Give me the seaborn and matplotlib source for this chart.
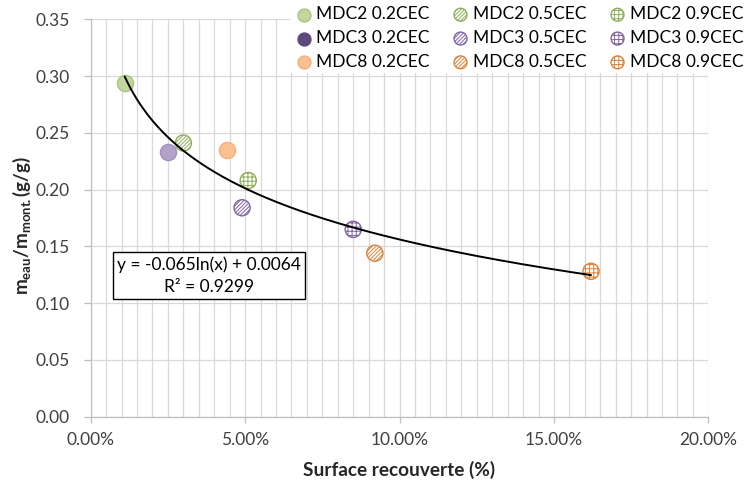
import numpy as np
import pandas as pd
import matplotlib
matplotlib.use("Agg")
import matplotlib.pyplot as plt
import seaborn as sns
from matplotlib.ticker import MultipleLocator, FuncFormatter

# ---------------- data ----------------
series = ["MDC2 0.2CEC", "MDC3 0.2CEC", "MDC8 0.2CEC",
          "MDC2 0.5CEC", "MDC3 0.5CEC", "MDC8 0.5CEC",
          "MDC2 0.9CEC", "MDC3 0.9CEC", "MDC8 0.9CEC"]
surface = [0.011, 0.025, 0.044, 0.030, 0.049, 0.092, 0.051, 0.085, 0.162]
ratio = [0.294, 0.233, 0.235, 0.241, 0.184, 0.144, 0.208, 0.165, 0.128]
fit_a = -0.065
fit_b = 0.0064
fit_r2 = 0.9299
x_ticks = [0.0, 0.05, 0.10, 0.15, 0.20]
y_ticks = [0.0, 0.05, 0.10, 0.15, 0.20, 0.25, 0.30, 0.35]

# ---------------- styles ----------------
face = ["#c3d69b", "#b3a2c7", "#fac090",
        "white", "white", "white",
        "white", "white", "white"]
edge = ["#a9c57e", "#a08fc0", "#f2b07e",
        "#8fae5a", "#8064a2", "#d9843f",
        "#8fae5a", "#8064a2", "#d9843f"]
hatch = [None, None, None,
         "/////////", "/////////", "/////////",
         "++++", "++++", "++++"]
legend_face = {"MDC3 0.2CEC": "#5f497a"}

sns.set_theme(style="white")
plt.rcParams["font.family"] = ["Lato", "DejaVu Sans"]
plt.rcParams["mathtext.fontset"] = "custom"
plt.rcParams["mathtext.rm"] = "Lato"
plt.rcParams["mathtext.it"] = "Lato:italic"
plt.rcParams["mathtext.bf"] = "Lato:bold"
plt.rcParams["hatch.linewidth"] = 0.7

df = pd.DataFrame({"series": series, "surface": surface, "ratio": ratio})

fig = plt.figure(figsize=(7.48, 4.88), dpi=100)
ax = fig.add_axes([0.1213, 0.1461, 0.8257, 0.8144])

for i, name in enumerate(series):
    sub = df[df["series"] == name]
    kw = dict(hatch=hatch[i]) if hatch[i] else {}
    sns.scatterplot(data=sub, x="surface", y="ratio", ax=ax, s=135,
                    facecolor=face[i], edgecolor=edge[i], linewidth=1.0,
                    label=name, legend=False, zorder=3, **kw)

xs = np.linspace(min(surface), max(surface), 300)
ys = fit_a * np.log(xs) + fit_b
sns.lineplot(x=xs, y=ys, ax=ax, color="black", linewidth=1.4, zorder=4,
             legend=False)

ax.set_xlim(x_ticks[0], x_ticks[-1])
ax.set_ylim(y_ticks[0], y_ticks[-1])
ax.set_xticks(x_ticks)
ax.set_yticks(y_ticks)
ax.xaxis.set_minor_locator(MultipleLocator(0.005))
ax.xaxis.set_major_formatter(FuncFormatter(lambda v, p: f"{v*100:.2f}%"))
ax.yaxis.set_major_formatter(FuncFormatter(lambda v, p: f"{v:.2f}"))

grid_c = "#d9d9d9"
ax.grid(True, which="major", axis="both", color=grid_c, linewidth=0.9, zorder=0)
ax.grid(True, which="minor", axis="x", color=grid_c, linewidth=0.9, zorder=0)
ax.set_axisbelow(True)
for s in ["top", "right"]:
    ax.spines[s].set_visible(False)
for s in ["left", "bottom"]:
    ax.spines[s].set_color("#bfbfbf")
    ax.spines[s].set_linewidth(0.9)

ax.tick_params(axis="x", which="major", length=4, width=0.9, color="#bfbfbf",
               direction="out", bottom=True, pad=7, labelsize=12.5,
               labelcolor="#404040")
ax.tick_params(axis="x", which="minor", length=0)
ax.tick_params(axis="y", which="major", length=5, width=0.9, color="#bfbfbf",
               direction="out", left=True, pad=10, labelsize=12.5,
               labelcolor="#404040")

ax.set_xlabel("Surface recouverte (%)", fontsize=13.7, fontweight="bold",
              color="#262626")
ax.xaxis.set_label_coords(0.5, -0.11)
ax.set_ylabel(r"$\mathbf{m_{eau}/m_{mont.}}$(g/g)", fontsize=13.5,
              fontweight="bold", color="#262626")
ax.yaxis.set_label_coords(-0.093, 0.48)

eq = f"y = {fit_a}ln(x) + {fit_b}\nR² = {fit_r2}"
ax.text(0.0383, 0.124, eq, ha="center", va="center", multialignment="center",
        fontsize=12.5, color="black", zorder=5, linespacing=1.45,
        bbox=dict(boxstyle="square,pad=0.25", fc="white", ec="black", lw=1.0))

handles, labels = ax.get_legend_handles_labels()
order = [labels.index(n) for n in series]
leg = fig.legend([handles[k] for k in order], [labels[k] for k in order],
                 loc="upper right", bbox_to_anchor=(1.010, 1.012), ncol=3,
                 frameon=True, facecolor="white", edgecolor="none",
                 framealpha=1.0, fontsize=12.5, handletextpad=0.1,
                 columnspacing=1.2, labelspacing=0.45, borderpad=0.2,
                 handlelength=1.2, markerscale=0.8)
for h, name in zip(leg.legend_handles, [labels[k] for k in order]):
    i = series.index(name)
    h.set_edgecolor(edge[i])
    if name in legend_face:
        h.set_facecolor(legend_face[name])
        h.set_edgecolor(legend_face[name])
for t in leg.get_texts():
    t.set_color("black")

fig.savefig("out.png", dpi=100)
